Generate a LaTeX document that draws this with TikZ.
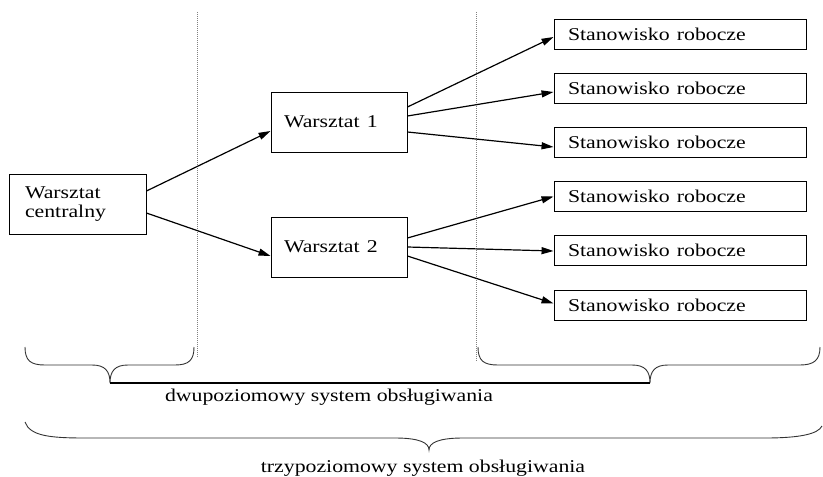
\documentclass[tikz,border=0pt]{standalone}
\usepackage{fontspec}
\setmainfont{Liberation Serif}
\usetikzlibrary{arrows.meta}
\newcommand\stretchtxt[1]{\scalebox{1.21}[1]{#1}}
\begin{document}
\begin{tikzpicture}[x=1pt,y=-1pt,
  lbl/.style={font=\fontsize{18}{19}\selectfont},
  wbox/.style={draw, line width=0.9pt, rectangle, align=left, lbl, inner ysep=0pt, minimum height=60pt},
  sbox/.style={draw, line width=0.9pt, rectangle, align=left, lbl, inner ysep=0pt, inner xsep=14pt, text width=224pt, minimum height=30pt},
  arr/.style={line width=1.2pt, -{Triangle[length=12pt,width=7pt]}},
  sep/.style={gray, line width=1pt, dash pattern=on 1pt off 1pt},
  brace/.style={line width=0.9pt, black!80}]
\useasboundingbox (0,0) rectangle (823,477);

% boxes
\node[wbox, inner xsep=16pt, text width=105pt] (wc) at (77.5,204) {\stretchtxt{Warsztat}\\\stretchtxt{centralny}};
\node[wbox, inner xsep=13pt, text width=110pt] (w1) at (339,122) {\stretchtxt{Warsztat 1}};
\node[wbox, inner xsep=13pt, text width=110pt] (w2) at (339,247) {\stretchtxt{Warsztat 2}};

\node[sbox] (s1) at (680,34) {\stretchtxt{Stanowisko robocze}};
\node[sbox] (s2) at (680,88) {\stretchtxt{Stanowisko robocze}};
\node[sbox] (s3) at (680,142) {\stretchtxt{Stanowisko robocze}};
\node[sbox] (s4) at (680,196.5) {\stretchtxt{Stanowisko robocze}};
\node[sbox] (s5) at (680,250) {\stretchtxt{Stanowisko robocze}};
\node[sbox] (s6) at (680,305.5) {\stretchtxt{Stanowisko robocze}};

% separators
\coordinate (d1t) at (197,12);
\coordinate (d1b) at (197,358);
\coordinate (d2t) at (476,12);
\coordinate (d2b) at (476,362);
\draw[sep] (d1t) -- (d1b);
\draw[sep] (d2t) -- (d2b);

% arrows
\draw[arr] ([yshift=13pt]wc.east) -- ([yshift=-9pt]w1.west);
\draw[arr] ([yshift=-9pt]wc.east) -- ([yshift=-9pt]w2.west);

\draw[arr] ([yshift=15pt]w1.east) -- ([yshift=-3pt]s1.west);
\draw[arr] ([yshift=6pt]w1.east) -- ([yshift=-4pt]s2.west);
\draw[arr] ([yshift=-10pt]w1.east) -- ([yshift=-5pt]s3.west);

\draw[arr] ([yshift=9pt]w2.east) -- ([yshift=0pt]s4.west);
\draw[arr] ([yshift=0pt]w2.east) -- ([yshift=-1pt]s5.west);
\draw[arr] ([yshift=-9pt]w2.east) -- ([yshift=2pt]s6.west);

% braces
\coordinate (t1) at (110,383);
\coordinate (t2) at (650,383);
\coordinate (t3) at (429,450);
\draw[brace] (25,347) .. controls (25,361) and (31,365) .. (45,365) -- (92,365)
  .. controls (105,365) and (110,371) .. (t1)
  .. controls (110,371) and (115,365) .. (128,365) -- (175,365)
  .. controls (189,365) and (194,360) .. (194,347);
\draw[brace] (478,347) .. controls (478,361) and (484,365) .. (498,365) -- (632,365)
  .. controls (645,365) and (650,371) .. (t2)
  .. controls (650,371) and (655,365) .. (668,365) -- (800,365)
  .. controls (814,365) and (820,360) .. (820,347);
\draw[brace] (25,422) .. controls (30,436) and (50,438) .. (85,438) -- (395,438)
  .. controls (420,438) and (429,443) .. (t3)
  .. controls (429,443) and (438,438) .. (463,438) -- (765,438)
  .. controls (800,438) and (818,434) .. (822,426);
\draw[line width=2pt] (t1) -- (t2);

% labels
\node[lbl] (l2) at (329,397) {\stretchtxt{dwupoziomowy system obsługiwania}};
\node[lbl] (l3) at (423,468) {\stretchtxt{trzypoziomowy system obsługiwania}};
\end{tikzpicture}
\end{document}
